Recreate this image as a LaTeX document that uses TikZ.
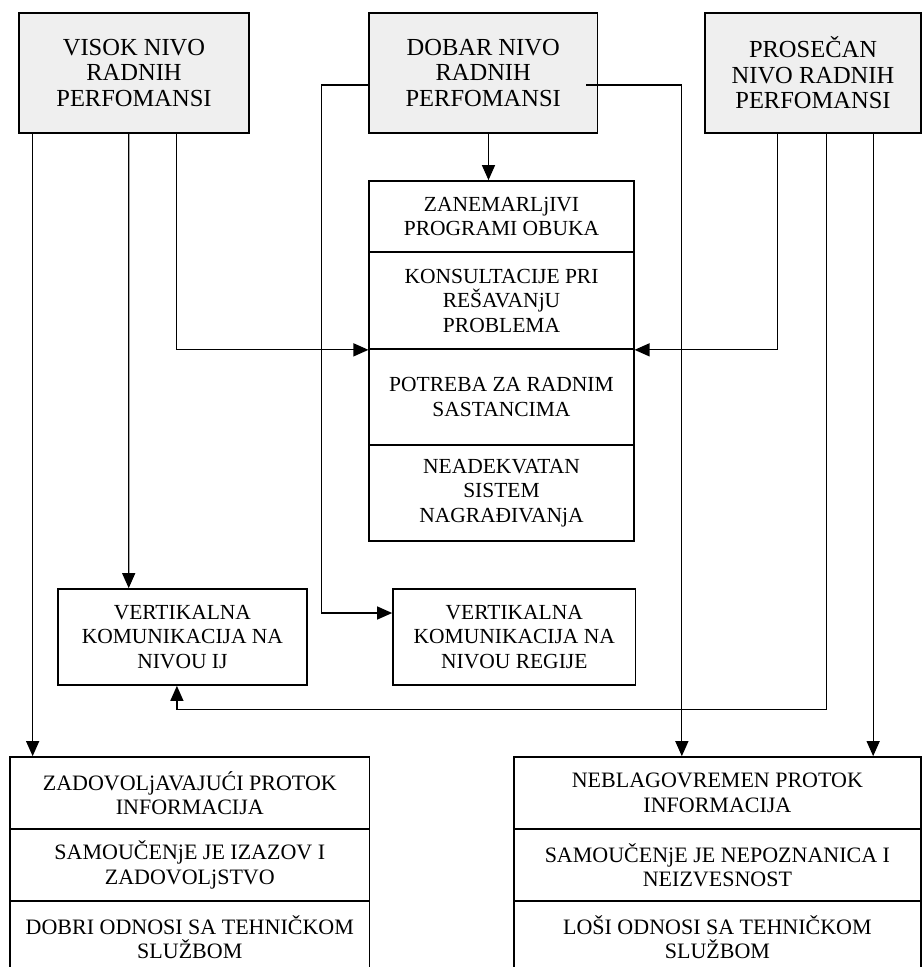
\documentclass[tikz,border=0pt]{standalone}
\usepackage{fontspec}
\setmainfont{Liberation Serif}
\usetikzlibrary{arrows.meta}
\definecolor{boxgray}{HTML}{EFEFEF}
\begin{document}
\begin{tikzpicture}[x=1pt,y=-1pt,
  box/.style={draw=black, line width=1.7pt, inner sep=0pt, align=center,
              font=\fontsize{21.5}{24.5}\selectfont},
  topbox/.style={box, fill=boxgray, minimum height=120pt,
                 font=\fontsize{24.5}{25.5}\selectfont},
  lowbox/.style={box, minimum height=72pt, font=\fontsize{22}{24.5}\selectfont},
  conn/.style={line width=1.25pt},
  arr/.style={conn, -{Triangle[length=15pt,width=13pt]}}
]
\clip (0,0) rectangle (923,967);

% performance levels
\node[topbox, minimum width=230pt]   (A) at (134,72.7)   {VISOK NIVO\\RADNIH\\PERFOMANSI};
\node[topbox, minimum width=228.4pt] (B) at (483.2,72.7) {DOBAR NIVO\\RADNIH\\PERFOMANSI};
\node[topbox, minimum width=216pt]   (C) at (813,72.7)   {PROSEČAN\\NIVO RADNIH\\PERFOMANSI};

% central stack
\node[box, minimum width=264.4pt, minimum height=71pt] (S1) at (501.5,216.5) {ZANEMARLjIVI\\PROGRAMI OBUKA};
\node[box, minimum width=264.4pt, minimum height=97pt] (S2) at (501.5,300.5) {KONSULTACIJE PRI\\REŠAVANjU\\PROBLEMA};
\node[box, minimum width=264.4pt, minimum height=96pt] (S3) at (501.5,397)   {POTREBA ZA RADNIM\\SASTANCIMA};
\node[box, minimum width=264.4pt, minimum height=96pt] (S4) at (501.5,493)   {NEADEKVATAN\\SISTEM\\NAGRAĐIVANjA};

% communication boxes
\node[box, minimum width=249.3pt, minimum height=96pt] (VIJ) at (182.4,637) {VERTIKALNA\\KOMUNIKACIJA NA\\NIVOU IJ};
\node[box, minimum width=242.6pt, minimum height=96pt] (VR)  at (514.3,637) {VERTIKALNA\\KOMUNIKACIJA NA\\NIVOU REGIJE};

% outcome stacks
\node[lowbox, minimum width=359.6pt] (L1) at (189.8,793) {ZADOVOLjAVAJUĆI PROTOK\\INFORMACIJA};
\node[lowbox, minimum width=359.6pt] (L2) at (189.8,865) {SAMOUČENjE JE IZAZOV I\\ZADOVOLjSTVO};
\node[lowbox, minimum width=359.6pt] (L3) at (189.8,937) {DOBRI ODNOSI SA TEHNIČKOM\\SLUŽBOM};

\node[lowbox, minimum width=407.2pt] (R1) at (717.4,793) {NEBLAGOVREMEN PROTOK\\INFORMACIJA};
\node[lowbox, minimum width=407.2pt] (R2) at (717.4,865) {SAMOUČENjE JE NEPOZNANICA I\\NEIZVESNOST};
\node[lowbox, minimum width=407.2pt] (R3) at (717.4,937) {LOŠI ODNOSI SA TEHNIČKOM\\SLUŽBOM};

% connectors from VISOK NIVO
\draw[arr] ([xshift=14.5pt]A.south west) -- ([xshift=23.5pt]L1.north west);
\draw[arr] ([xshift=110.5pt]A.south west) -- ([xshift=71.8pt]VIJ.north west);
\draw[arr] ([xshift=158.7pt]A.south west) |- (S2.south west);

% connectors from DOBAR NIVO
\draw[arr] ([xshift=5.3pt]B.south) -- ([xshift=-13pt]S1.north);
\draw[arr] ([yshift=-12.3pt]B.west) -- ++(-47,0) |- ([yshift=24pt]VR.west);
\draw[arr] ([xshift=-11.8pt,yshift=-12.3pt]B.east) -| ([xshift=168.9pt]R1.north west);

% connectors from PROSEČAN NIVO
\draw[arr] ([xshift=73.7pt]C.south west) |- (S2.south east);
\draw[arr] ([xshift=122pt]C.south west) -- ++(0,576.3) -| ([xshift=120pt]VIJ.south west);
\draw[arr] ([xshift=169pt]C.south west) -- ([xshift=360.2pt]R1.north west);
\end{tikzpicture}
\end{document}
